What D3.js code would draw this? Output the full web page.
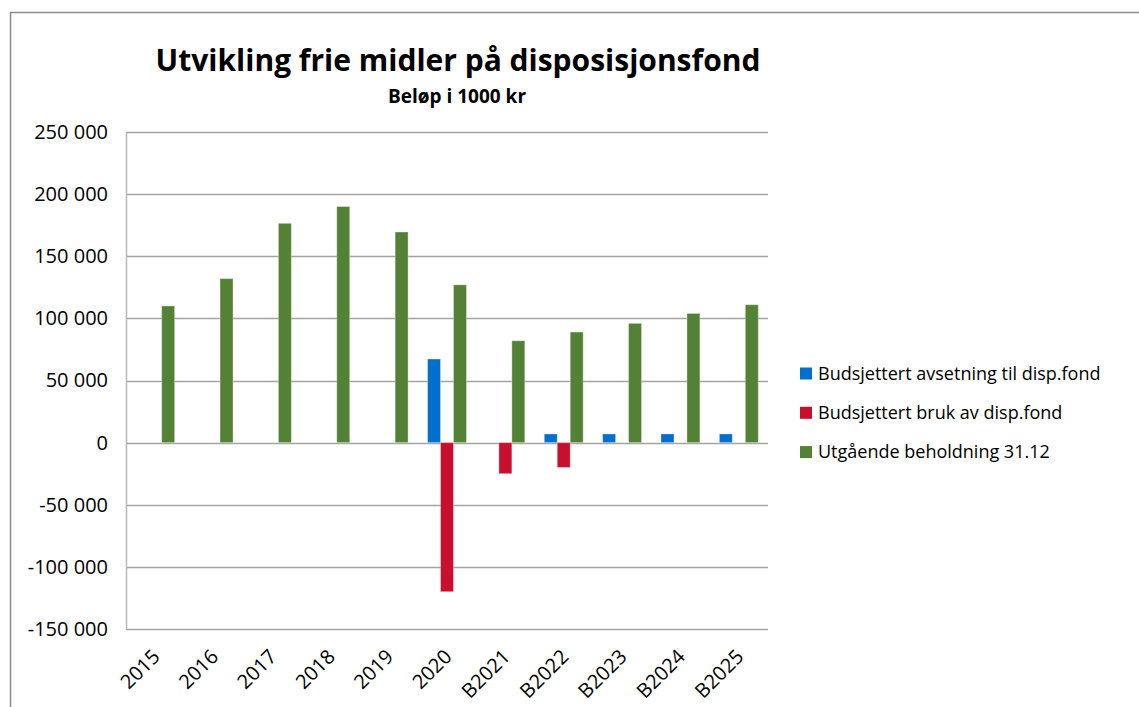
<!DOCTYPE html>
<html>
<head>
<meta charset="utf-8">
<script src="https://cdn.jsdelivr.net/npm/d3@7"></script>
<style>
  html, body { margin: 0; padding: 0; background: #fff; }
  svg text { font-family: "Open Sans", "Liberation Sans", sans-serif; fill: #000; }
</style>
</head>
<body>
<svg id="chart" width="1139" height="707"></svg>
<script>
const categories = ["2015","2016","2017","2018","2019","2020","B2021","B2022","B2023","B2024","B2025"];
const seriesNames = ["Budsjettert avsetning til disp.fond","Budsjettert bruk av disp.fond","Utgående beholdning 31.12"];
const avsetning = [null,null,null,null,null,67300,null,7000,7000,7000,7000];
const bruk      = [null,null,null,null,null,-120000,-25000,-20000,null,null,null];
const beholdning= [110000,132000,176500,190000,169500,127000,82000,89000,96000,104000,111000];
const seriesColors = ["#0070cc","#c8102e","#538135"];
const yTicks = [-150000,-100000,-50000,0,50000,100000,150000,200000,250000];
const titleText = "Utvikling frie midler på disposisjonsfond";
const subtitleText = "Beløp i 1000 kr";

const seriesValues = [avsetning, bruk, beholdning];
const svg = d3.select("#chart");

// outer frame
svg.append("path")
  .attr("d", "M10.5,712 L10.5,12.5 L1145,12.5")
  .attr("fill","none").attr("stroke","#8c8c8c").attr("stroke-width",1.5);

const plot = {left:126, right:768, top:132, bottom:629};
const x = d3.scaleBand().domain(categories).range([plot.left, plot.right]).padding(0);
const bw = x.bandwidth();
const x1 = d3.scaleBand().domain(seriesNames).range([bw/6, bw - bw/6]).padding(0);
const y = d3.scaleLinear().domain([-150000, 250000]).range([plot.bottom, plot.top]);

const locale = d3.formatLocale({decimal:",", thousands:" ", grouping:[3], currency:["",""], minus:"-"});
const fmt = locale.format(",");

// gridlines
svg.append("g").selectAll("line").data(yTicks).join("line")
  .attr("x1", plot.left).attr("x2", plot.right)
  .attr("y1", d => Math.round(y(d)) + 0.5).attr("y2", d => Math.round(y(d)) + 0.5)
  .attr("stroke", "#a3a3a3").attr("stroke-width", 1.5);

// y axis line
svg.append("line")
  .attr("x1", plot.left + 0.5).attr("x2", plot.left + 0.5)
  .attr("y1", plot.top).attr("y2", plot.bottom)
  .attr("stroke", "#b8b8b8").attr("stroke-width", 1.5);

// y axis via d3
const yAxis = d3.axisLeft(y).tickValues(yTicks).tickFormat(fmt).tickSize(0).tickPadding(18);
const ga = svg.append("g").attr("transform", `translate(${plot.left},0)`).call(yAxis);
ga.select(".domain").remove();
ga.selectAll("text").attr("font-size", 20).attr("font-family", "Open Sans").attr("fill", "#000");

// bars
const groups = svg.append("g").selectAll("g").data(seriesNames).join("g")
  .attr("fill", (d,i) => seriesColors[i]);
groups.selectAll("rect")
  .data((s,i) => categories.map((c,j) => ({c, s, v: seriesValues[i][j]})).filter(d => d.v !== null))
  .join("rect")
  .attr("x", d => x(d.c) + x1(d.s))
  .attr("width", x1.bandwidth())
  .attr("y", d => y(Math.max(0, d.v)))
  .attr("height", d => Math.abs(y(d.v) - y(0)))
  .attr("stroke", "rgba(255,255,255,0.35)").attr("stroke-width", 1);

// x labels
svg.append("g").selectAll("text").data(categories).join("text")
  .attr("transform", d => `translate(${x(d) + bw/2 + 6},${658}) rotate(-45)`)
  .attr("text-anchor", "end")
  .attr("font-size", 20)
  .text(d => d);

// title
svg.append("text").attr("x", 458).attr("y", 71).attr("text-anchor","middle")
  .attr("font-size", 30).attr("font-weight","bold").text(titleText);
svg.append("text").attr("x", 457).attr("y", 103).attr("text-anchor","middle")
  .attr("font-size", 19).attr("font-weight","bold").text(subtitleText);

// legend
const lg = svg.append("g").selectAll("g").data(seriesNames).join("g")
  .attr("transform", (d,i) => `translate(800,${373.5 + i*39.3})`);
lg.append("rect").attr("x",0).attr("y",-6).attr("width",12).attr("height",12)
  .attr("fill", (d,i) => seriesColors[i]);
lg.append("text").attr("x", 18).attr("y", 0).attr("dy","0.35em")
  .attr("font-size", 18).text(d => d);
</script>
</body>
</html>
